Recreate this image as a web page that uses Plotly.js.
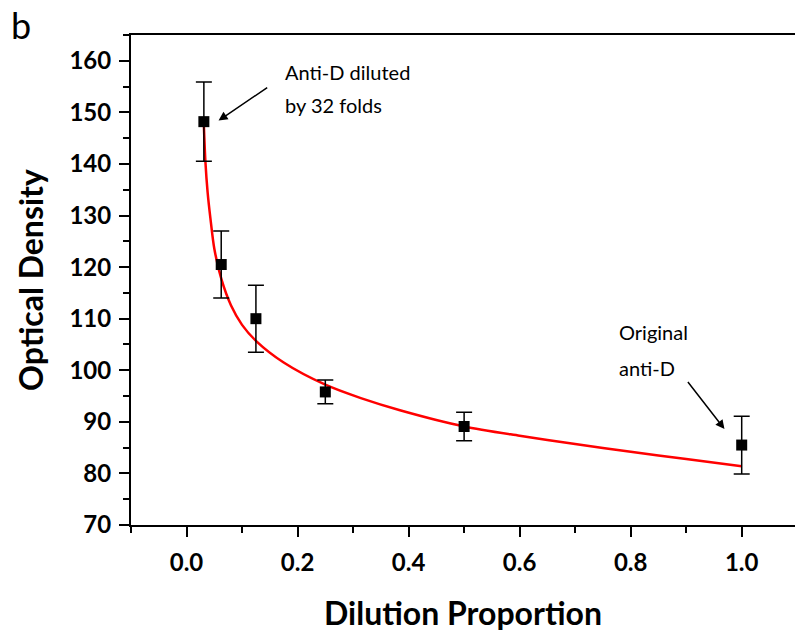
<!DOCTYPE html>
<html>
<head>
<meta charset="utf-8">
<script src="https://cdn.plot.ly/plotly-3.0.1.min.js"></script>
<style>html,body{margin:0;padding:0;background:#fff;}#chart{width:795px;height:641px;}</style>
</head>
<body>
<div id="chart"></div>
<script>
// Measured data (dilution proportion vs optical density)
const dilution = [0.03125, 0.0625, 0.125, 0.25, 0.5, 1.0];
const density = [148.2, 120.5, 110.0, 95.8, 89.1, 85.5];
const densityErr = [7.7, 6.5, 6.5, 2.3, 2.75, 5.6];

// Fitted curve, points
const fitX = [0.031, 0.034, 0.038, 0.043, 0.050, 0.063, 0.080, 0.100, 0.126, 0.175, 0.25, 0.314, 0.386, 0.5, 0.6, 0.7, 0.8, 0.9, 1.0];
const fitY = [148.2, 140.5, 134.5, 129.5, 123.6, 117.6, 112.6, 108.8, 105.6, 101.5, 97.2, 94.6, 92.2, 89.1, 87.3, 85.7, 84.2, 82.8, 81.4];

// Axis ticks
const xTicks = [0.0, 0.2, 0.4, 0.6, 0.8, 1.0];
const xTickText = ['0.0', '0.2', '0.4', '0.6', '0.8', '1.0'];
const yTicks = [70, 80, 90, 100, 110, 120, 130, 140, 150, 160];

const traces = [
  {
    x: fitX, y: fitY, type: 'scatter', mode: 'lines',
    line: {color: '#ff0000', width: 2.5, shape: 'spline', smoothing: 0.8},
    hoverinfo: 'skip', showlegend: false
  },
  {
    x: dilution, y: density, type: 'scatter', mode: 'markers',
    marker: {symbol: 'square', size: 11, color: '#000'},
    error_y: {type: 'data', array: densityErr, visible: true, color: '#000', thickness: 1.5, width: 8},
    showlegend: false
  }
];

const annFont = {family: 'Lato, "Open Sans", sans-serif', size: 20, color: '#000'};

const layout = {
  width: 795, height: 641,
  margin: {l: 131, r: 0, t: 35, b: 116},
  paper_bgcolor: '#fff', plot_bgcolor: '#fff',
  showlegend: false,
  font: {family: 'Lato, "Open Sans", sans-serif', color: '#000'},
  xaxis: {
    range: [-0.1, 1.096], autorange: false,
    tickvals: xTicks, ticktext: xTickText,
    ticks: 'outside', ticklen: 10, tickwidth: 2, tickcolor: '#000',
    minor: {dtick: 0.1, tick0: 0, ticks: 'outside', ticklen: 6, tickwidth: 2, tickcolor: '#000', showgrid: false},
    showline: true, linewidth: 2, linecolor: '#000', mirror: true,
    showgrid: false, zeroline: false,
    tickfont: {family: 'Lato, sans-serif', size: 24, color: '#000', weight: 'bold'},
    ticklabelstandoff: 5,
    title: {text: '<b>Dilution Proportion</b>', font: {family: 'Lato, sans-serif', size: 32, color: '#000'}, standoff: 28},
    automargin: false
  },
  yaxis: {
    range: [70, 165], autorange: false,
    tickvals: yTicks,
    ticks: 'outside', ticklen: 10, tickwidth: 2, tickcolor: '#000',
    minor: {dtick: 5, tick0: 70, ticks: 'outside', ticklen: 6, tickwidth: 2, tickcolor: '#000', showgrid: false},
    showline: true, linewidth: 2, linecolor: '#000', mirror: false,
    showgrid: false, zeroline: false,
    tickfont: {family: 'Lato, sans-serif', size: 24, color: '#000', weight: 'bold'},
    ticklabelstandoff: 3,
    title: {text: '<b>Optical Density</b>', font: {family: 'Lato, sans-serif', size: 32, color: '#000'}, standoff: 16},
    automargin: false
  },
  annotations: [
    {xref: 'paper', yref: 'paper', x: -0.183, y: 1.02, xanchor: 'left', yanchor: 'middle',
     text: 'b', showarrow: false, font: {family: 'Lato, "Open Sans", sans-serif', size: 36, color: '#000'}},
    {x: 0.173, y: 157.8, xanchor: 'left', yanchor: 'middle', text: 'Anti-D diluted', showarrow: false, font: annFont},
    {x: 0.173, y: 151.4, xanchor: 'left', yanchor: 'middle', text: 'by 32 folds', showarrow: false, font: annFont},
    {x: 0.0577, y: 148.4, ax: 0.148, ay: 155.0, axref: 'x', ayref: 'y', text: '', showarrow: true,
     arrowhead: 2, arrowsize: 1.2, arrowwidth: 1.5, arrowcolor: '#000'},
    {x: 0.775, y: 107.5, xanchor: 'left', yanchor: 'middle', text: 'Original', showarrow: false, font: annFont},
    {x: 0.775, y: 100.4, xanchor: 'left', yanchor: 'middle', text: 'anti-D', showarrow: false, font: annFont},
    {x: 0.969, y: 88.6, ax: 0.901, ay: 98.0, axref: 'x', ayref: 'y', text: '', showarrow: true,
     arrowhead: 2, arrowsize: 1.2, arrowwidth: 1.5, arrowcolor: '#000'}
  ]
};

Plotly.newPlot('chart', traces, layout, {staticPlot: true, displayModeBar: false});
</script>
</body>
</html>
